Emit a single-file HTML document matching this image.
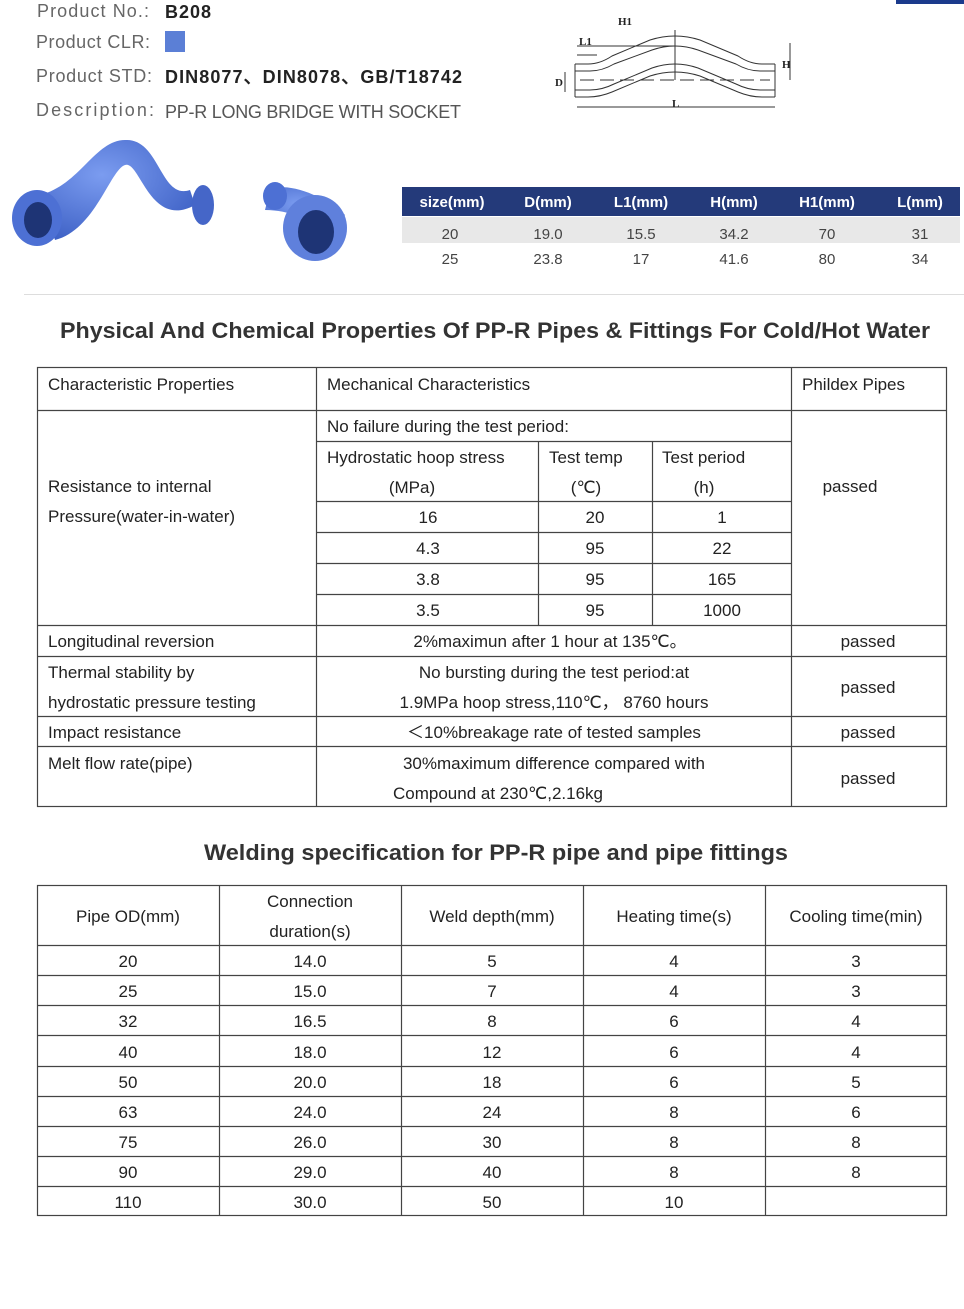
<!DOCTYPE html>
<html><head><meta charset="utf-8"><style>
html,body{margin:0;padding:0;background:#fff}
svg{display:block}
text{font-family:"Liberation Sans",sans-serif}
.serif{font-family:"Liberation Serif",serif}
</style></head><body>
<svg width="964" height="1309" viewBox="0 0 964 1309" xmlns="http://www.w3.org/2000/svg">
<rect x="896" y="0" width="68" height="4" fill="#1b3a8c"/>
<g font-size="18" fill="#666">
<text x="37" y="17" textLength="112">Product No.:</text>
<text x="36" y="48" textLength="114">Product CLR:</text>
<text x="36" y="82" textLength="116">Product STD:</text>
<text x="36" y="116" textLength="118">Description:</text>
</g>
<text x="165" y="18" font-size="18" font-weight="bold" fill="#222" textLength="46">B208</text>
<rect x="165" y="31" width="20" height="21" fill="#5b7fd6"/>
<text x="165" y="83" font-size="18" font-weight="bold" fill="#222" textLength="297">DIN8077、DIN8078、GB/T18742</text>
<text x="165" y="118" font-size="18" fill="#555" textLength="296">PP-R LONG BRIDGE WITH SOCKET</text>
<!-- drawing -->
<g stroke="#333" fill="none" stroke-width="1">
<path d="M575 64 H588 Q600 64 612 56 L650 40 Q675 32 700 40 L738 56 Q750 64 762 64 H775"/>
<path d="M575 71 H590 Q602 71 614 64 L652 50 Q675 42 698 50 L736 64 Q748 71 760 71 H775"/>
<path d="M575 90 H590 Q602 90 614 84 L652 68 Q675 60 698 68 L736 84 Q748 90 760 90 H775"/>
<path d="M575 97 H588 Q600 97 612 92 L650 76 Q675 68 700 76 L738 92 Q750 97 762 97 H775"/>
<line x1="575" y1="64" x2="575" y2="97"/><line x1="775" y1="64" x2="775" y2="97"/>
<line x1="577" y1="46" x2="675" y2="46"/><line x1="577" y1="107" x2="775" y2="107"/>
<line x1="577" y1="55" x2="597" y2="55"/><line x1="675" y1="30" x2="675" y2="80"/>
<line x1="790" y1="43" x2="790" y2="80"/>
<line x1="565" y1="72" x2="565" y2="92" />
<line x1="580" y1="80" x2="770" y2="80" stroke-dasharray="14 6"/>
</g>
<g font-size="11" font-weight="bold" fill="#222" class="serif">
<text class="serif" x="618" y="25">H1</text><text class="serif" x="579" y="45">L1</text><text class="serif" x="672" y="107">L</text>
<text class="serif" x="555" y="86">D</text><text class="serif" x="782" y="68">H</text>
</g>
<!-- pipes -->
<defs><radialGradient id="g1" cx="0.4" cy="0.35" r="0.7"><stop offset="0" stop-color="#7b9cf0"/><stop offset="1" stop-color="#3f62c6"/></radialGradient></defs>
<path d="M40 195 C80 185 95 140 125 140 C160 138 160 200 190 190 L195 205 C150 230 140 160 125 165 C110 170 95 230 55 240 Z" fill="url(#g1)"/>
<ellipse cx="37" cy="218" rx="25" ry="28" fill="#4d70d4"/><ellipse cx="38" cy="220" rx="14" ry="18" fill="#1e3475"/>
<ellipse cx="203" cy="205" rx="11" ry="20" fill="#4566c8"/>
<path d="M270 190 C290 180 330 200 345 215 L330 235 C310 220 290 210 265 210 Z" fill="url(#g1)"/>
<ellipse cx="275" cy="196" rx="12" ry="14" fill="#4d70d4"/>
<ellipse cx="315" cy="228" rx="32" ry="33" fill="#5f80dc"/><ellipse cx="316" cy="232" rx="18" ry="22" fill="#1e3475"/>
<!-- size table -->
<rect x="402" y="187" width="558" height="29" fill="#243a7a"/>
<rect x="402" y="217" width="558" height="26" fill="#e8e8e8"/>
<g font-size="15" fill="#fff" font-weight="bold" text-anchor="middle">
<text x="452" y="207">size(mm)</text><text x="548" y="207">D(mm)</text><text x="641" y="207">L1(mm)</text><text x="734" y="207">H(mm)</text><text x="827" y="207">H1(mm)</text><text x="920" y="207">L(mm)</text>
</g>
<g font-size="15" fill="#444" text-anchor="middle">
<text x="450" y="239">20</text><text x="548" y="239">19.0</text><text x="641" y="239">15.5</text><text x="734" y="239">34.2</text><text x="827" y="239">70</text><text x="920" y="239">31</text>
<text x="450" y="264">25</text><text x="548" y="264">23.8</text><text x="641" y="264">17</text><text x="734" y="264">41.6</text><text x="827" y="264">80</text><text x="920" y="264">34</text>
</g>
<line x1="24" y1="294.5" x2="964" y2="294.5" stroke="#ddd"/>
<text x="60" y="338" font-size="22" font-weight="bold" fill="#333" textLength="870" lengthAdjust="spacingAndGlyphs">Physical And Chemical Properties Of PP-R Pipes &amp; Fittings For Cold/Hot Water</text>
<!-- table 1 -->
<g stroke="#444" stroke-width="1.2" fill="none">
<rect x="37.5" y="367.5" width="909" height="439"/>
<line x1="316.5" y1="367" x2="316.5" y2="807"/><line x1="791.5" y1="367" x2="791.5" y2="807"/>
<line x1="37" y1="410.5" x2="947" y2="410.5"/>
<line x1="316" y1="441.5" x2="791" y2="441.5"/>
<line x1="316" y1="501.5" x2="791" y2="501.5"/>
<line x1="316" y1="532.5" x2="791" y2="532.5"/>
<line x1="316" y1="563.5" x2="791" y2="563.5"/>
<line x1="316" y1="594.5" x2="791" y2="594.5"/>
<line x1="538.5" y1="441" x2="538.5" y2="625"/><line x1="652.5" y1="441" x2="652.5" y2="625"/>
<line x1="37" y1="625.5" x2="947" y2="625.5"/>
<line x1="37" y1="656.5" x2="947" y2="656.5"/>
<line x1="37" y1="716.5" x2="947" y2="716.5"/>
<line x1="37" y1="746.5" x2="947" y2="746.5"/>
</g>
<g font-size="17" fill="#222">
<text x="48" y="390">Characteristic   Properties</text>
<text x="327" y="390">Mechanical   Characteristics</text>
<text x="802" y="390">Phildex Pipes</text>
<text x="327" y="432">No failure during the test period:</text>
<text x="327" y="463">Hydrostatic hoop stress</text>
<text x="549" y="463">Test temp</text>
<text x="662" y="463">Test period</text>
<text x="48" y="492">Resistance to internal</text>
<text x="48" y="522">Pressure(water-in-water)</text>
<text x="48" y="647">Longitudinal reversion</text>
<text x="48" y="678">Thermal stability by</text>
<text x="48" y="708">hydrostatic pressure testing</text>
<text x="48" y="738">Impact resistance</text>
<text x="48" y="769">Melt flow rate(pipe)</text>
</g>
<g font-size="17" fill="#222" text-anchor="middle">
<text x="412" y="493">(MPa)</text><text x="586" y="493">(℃)</text><text x="704" y="493">(h)</text>
<text x="850" y="492">passed</text>
<text x="428" y="523">16</text><text x="595" y="523">20</text><text x="722" y="523">1</text>
<text x="428" y="554">4.3</text><text x="595" y="554">95</text><text x="722" y="554">22</text>
<text x="428" y="585">3.8</text><text x="595" y="585">95</text><text x="722" y="585">165</text>
<text x="428" y="616">3.5</text><text x="595" y="616">95</text><text x="722" y="616">1000</text>
<text x="550" y="647">2%maximun after 1 hour at 135℃。</text><text x="868" y="647">passed</text>
<text x="554" y="678">No bursting during the test period:at</text>
<text x="554" y="708">1.9MPa hoop stress,110℃， 8760 hours</text><text x="868" y="693">passed</text>
<text x="554" y="738">＜10%breakage rate of tested samples</text><text x="868" y="738">passed</text>
<text x="554" y="769">30%maximum difference compared with</text>
<text x="498" y="799">Compound at 230℃,2.16kg</text><text x="868" y="784">passed</text>
</g>
<text x="204" y="860" font-size="22" font-weight="bold" fill="#333" textLength="584" lengthAdjust="spacingAndGlyphs">Welding specification for PP-R pipe and pipe fittings</text>
<!-- table 2 -->
<g stroke="#444" stroke-width="1.2" fill="none">
<rect x="37.5" y="885.5" width="909" height="330"/>
<line x1="219.5" y1="885" x2="219.5" y2="1216"/><line x1="401.5" y1="885" x2="401.5" y2="1216"/>
<line x1="583.5" y1="885" x2="583.5" y2="1216"/><line x1="765.5" y1="885" x2="765.5" y2="1216"/>
<line x1="37" y1="945.5" x2="947" y2="945.5"/><line x1="37" y1="975.5" x2="947" y2="975.5"/>
<line x1="37" y1="1005.5" x2="947" y2="1005.5"/><line x1="37" y1="1035.5" x2="947" y2="1035.5"/>
<line x1="37" y1="1066.5" x2="947" y2="1066.5"/><line x1="37" y1="1096.5" x2="947" y2="1096.5"/>
<line x1="37" y1="1126.5" x2="947" y2="1126.5"/><line x1="37" y1="1156.5" x2="947" y2="1156.5"/>
<line x1="37" y1="1186.5" x2="947" y2="1186.5"/>
</g>
<g font-size="17" fill="#222" text-anchor="middle">
<text x="128" y="922">Pipe OD(mm)</text>
<text x="310" y="907">Connection</text><text x="310" y="937">duration(s)</text>
<text x="492" y="922">Weld depth(mm)</text>
<text x="674" y="922">Heating time(s)</text>
<text x="856" y="922">Cooling time(min)</text>
<text x="128" y="967">20</text><text x="310" y="967">14.0</text><text x="492" y="967">5</text><text x="674" y="967">4</text><text x="856" y="967">3</text>
<text x="128" y="997">25</text><text x="310" y="997">15.0</text><text x="492" y="997">7</text><text x="674" y="997">4</text><text x="856" y="997">3</text>
<text x="128" y="1027">32</text><text x="310" y="1027">16.5</text><text x="492" y="1027">8</text><text x="674" y="1027">6</text><text x="856" y="1027">4</text>
<text x="128" y="1058">40</text><text x="310" y="1058">18.0</text><text x="492" y="1058">12</text><text x="674" y="1058">6</text><text x="856" y="1058">4</text>
<text x="128" y="1088">50</text><text x="310" y="1088">20.0</text><text x="492" y="1088">18</text><text x="674" y="1088">6</text><text x="856" y="1088">5</text>
<text x="128" y="1118">63</text><text x="310" y="1118">24.0</text><text x="492" y="1118">24</text><text x="674" y="1118">8</text><text x="856" y="1118">6</text>
<text x="128" y="1148">75</text><text x="310" y="1148">26.0</text><text x="492" y="1148">30</text><text x="674" y="1148">8</text><text x="856" y="1148">8</text>
<text x="128" y="1178">90</text><text x="310" y="1178">29.0</text><text x="492" y="1178">40</text><text x="674" y="1178">8</text><text x="856" y="1178">8</text>
<text x="128" y="1208">110</text><text x="310" y="1208">30.0</text><text x="492" y="1208">50</text><text x="674" y="1208">10</text>
</g>
</svg>
</body></html>
